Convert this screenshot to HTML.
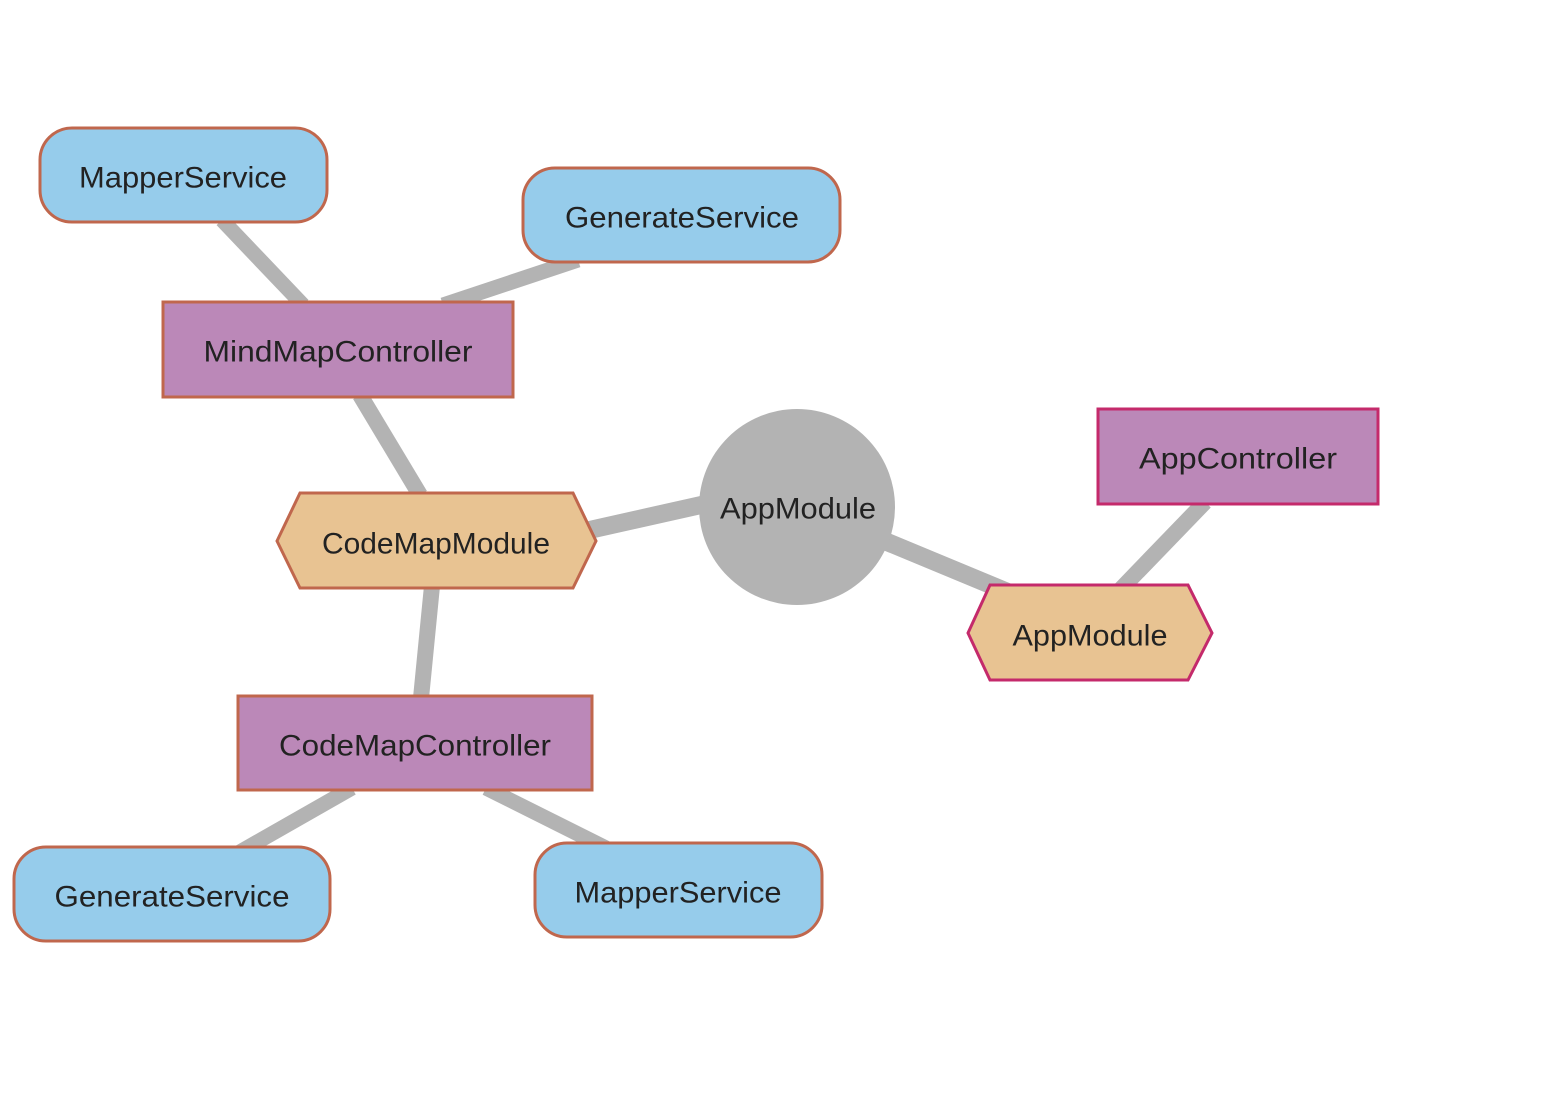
<!DOCTYPE html>
<html><head><meta charset="utf-8"><style>html,body{margin:0;padding:0;background:#fff;}svg{display:block}</style></head>
<body>
<svg width="1558" height="1110" viewBox="0 0 1558 1110" xmlns="http://www.w3.org/2000/svg">
<g stroke="#b3b3b3" stroke-linecap="butt" fill="none">
<line x1="222" y1="220" x2="303" y2="305" stroke-width="15"/>
<line x1="578" y1="260" x2="443" y2="305" stroke-width="15"/>
<line x1="360" y1="395" x2="420" y2="495" stroke-width="16"/>
<line x1="585" y1="531" x2="710" y2="503" stroke-width="18"/>
<line x1="875" y1="537" x2="1015" y2="595" stroke-width="18"/>
<line x1="1205" y1="502" x2="1120" y2="590" stroke-width="16"/>
<line x1="432" y1="586" x2="421" y2="698" stroke-width="16"/>
<line x1="352" y1="788" x2="238" y2="853" stroke-width="15"/>
<line x1="486" y1="788" x2="606" y2="848" stroke-width="15"/>
</g>
<circle cx="797" cy="507" r="98" fill="#b3b3b3"/>
<g stroke="#c0674d" stroke-width="3">
<rect x="40" y="128" width="287" height="94" rx="32" fill="#96cceb"/>
<rect x="523" y="168" width="317" height="94" rx="32" fill="#96cceb"/>
<rect x="163" y="302" width="350" height="95" fill="#bb88b8"/>
<polygon points="277,541 300,493 573,493 596,541 573,588 300,588" fill="#e8c392"/>
<rect x="238" y="696" width="354" height="94" fill="#bb88b8"/>
<rect x="14" y="847" width="316" height="94" rx="32" fill="#96cceb"/>
<rect x="535" y="843" width="287" height="94" rx="32" fill="#96cceb"/>
</g>
<g stroke="#c42a6b" stroke-width="3">
<rect x="1098" y="409" width="280" height="95" fill="#bb88b8"/>
<polygon points="968,633 990,585 1188,585 1212,633 1188,680 990,680" fill="#e8c392"/>
</g>
<g font-family="'Liberation Sans', sans-serif" font-size="30" fill="#222" text-anchor="middle" dominant-baseline="central" lengthAdjust="spacingAndGlyphs">
<text x="183" y="178" textLength="208" lengthAdjust="spacingAndGlyphs">MapperService</text>
<text x="682" y="218" textLength="234" lengthAdjust="spacingAndGlyphs">GenerateService</text>
<text x="338" y="352" textLength="269" lengthAdjust="spacingAndGlyphs">MindMapController</text>
<text x="436" y="544" textLength="228" lengthAdjust="spacingAndGlyphs">CodeMapModule</text>
<text x="798" y="509" textLength="156" lengthAdjust="spacingAndGlyphs">AppModule</text>
<text x="1238" y="459" textLength="198" lengthAdjust="spacingAndGlyphs">AppController</text>
<text x="1090" y="636" textLength="155" lengthAdjust="spacingAndGlyphs">AppModule</text>
<text x="415" y="746" textLength="272" lengthAdjust="spacingAndGlyphs">CodeMapController</text>
<text x="172" y="897" textLength="235" lengthAdjust="spacingAndGlyphs">GenerateService</text>
<text x="678" y="893" textLength="207" lengthAdjust="spacingAndGlyphs">MapperService</text>
</g>
</svg>
</body></html>
